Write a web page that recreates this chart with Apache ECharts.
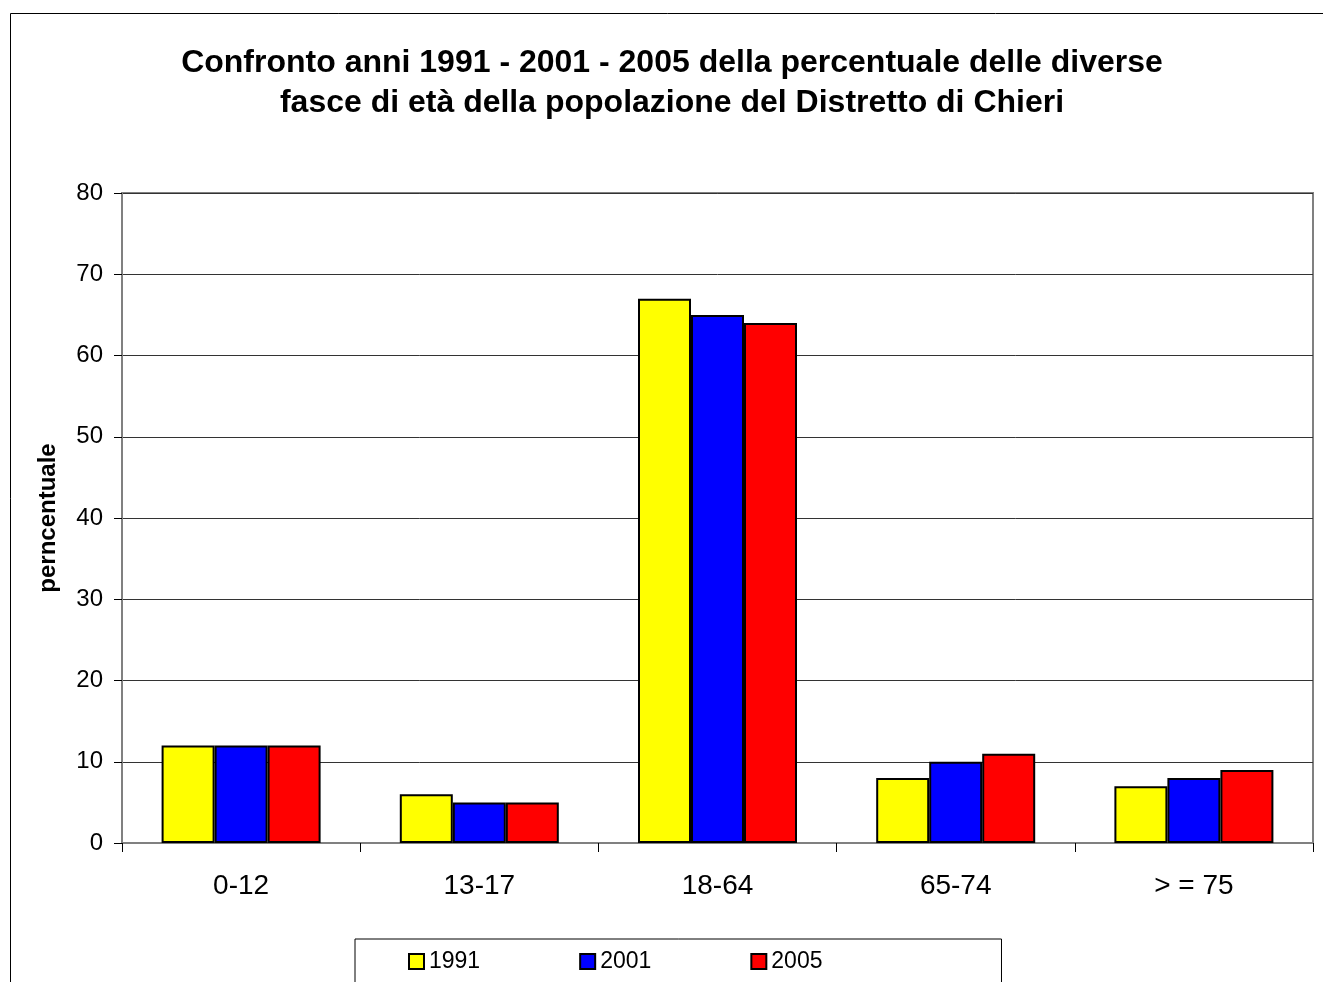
<!DOCTYPE html>
<html>
<head>
<meta charset="utf-8">
<script src="https://cdn.jsdelivr.net/npm/echarts@6/dist/echarts.min.js"></script>
<style>
  html, body { margin: 0; padding: 0; background: #fff; }
  #chart { width: 1323px; height: 982px; }
</style>
</head>
<body>
<div id="chart"></div>
<script>
// Age bands and percentage of population for each census year
const categories = ['0-12', '13-17', '18-64', '65-74', '> = 75'];
const years = ['1991', '2001', '2005'];
const values1991 = [12, 6, 67, 8, 7];
const values2001 = [12, 5, 65, 10, 8];
const values2005 = [12, 5, 64, 11, 9];
const yTicks = { min: 0, max: 80, interval: 10 };

const seriesValues = [values1991, values2001, values2005];
const colors = ['#ffff00', '#0000ff', '#ff0000'];
const font = 'Arial, "Liberation Sans", Helvetica, sans-serif';

const chart = echarts.init(document.getElementById('chart'));
chart.setOption({
  animation: false,
  backgroundColor: '#fff',
  textStyle: { fontFamily: font },
  graphic: [{
    type: 'rect',
    shape: { x: 10.5, y: 13.5, width: 1400, height: 1100 },
    style: { fill: 'none', stroke: '#000', lineWidth: 1 },
    silent: true,
    z: -1
  }],
  title: {
    text: 'Confronto anni 1991 - 2001 - 2005 della percentuale delle diverse\nfasce di età della popolazione del Distretto di Chieri',
    left: 672,
    top: 43,
    padding: 0,
    textAlign: 'center',
    textStyle: {
      fontFamily: font,
      fontSize: 32,
      fontWeight: 'bold',
      color: '#000',
      lineHeight: 40
    }
  },
  legend: {
    data: years,
    left: 355,
    top: 939,
    orient: 'horizontal',
    padding: [11, 179, 40, 53],
    itemGap: 99,
    itemWidth: 15,
    itemHeight: 15,
    borderColor: '#000',
    borderWidth: 1,
    icon: 'rect',
    itemStyle: { borderColor: '#000', borderWidth: 2 },
    textStyle: { fontFamily: font, fontSize: 23, color: '#000' }
  },
  grid: {
    left: 122,
    right: 10,
    top: 193,
    bottom: 139,
    show: true,
    borderColor: '#808080',
    borderWidth: 2,
    backgroundColor: '#fff'
  },
  xAxis: {
    type: 'category',
    data: categories,
    axisLine: { lineStyle: { color: '#808080', width: 2 } },
    axisTick: { show: true, length: 9, alignWithLabel: false, lineStyle: { color: '#000', width: 1 } },
    axisLabel: { margin: 29, fontSize: 28, color: '#000', fontFamily: font },
    splitLine: { show: false }
  },
  yAxis: {
    type: 'value',
    min: yTicks.min,
    max: yTicks.max,
    interval: yTicks.interval,
    name: 'perncentuale',
    nameLocation: 'middle',
    nameRotate: 90,
    nameGap: 62,
    nameTextStyle: { fontFamily: font, fontSize: 24, fontWeight: 'bold', color: '#000' },
    axisLine: { show: true, lineStyle: { color: '#808080', width: 2 } },
    axisTick: { show: true, length: 8, lineStyle: { color: '#000', width: 1 } },
    axisLabel: { margin: 19, fontSize: 24, color: '#000', fontFamily: font },
    splitLine: { show: true, lineStyle: { color: '#333', width: 1 } }
  },
  series: years.map((y, i) => ({
    name: y,
    type: 'bar',
    data: seriesValues[i],
    barWidth: 53,
    barGap: '0%',
    itemStyle: { color: colors[i], borderColor: '#000', borderWidth: 2 }
  }))
});
</script>
</body>
</html>
